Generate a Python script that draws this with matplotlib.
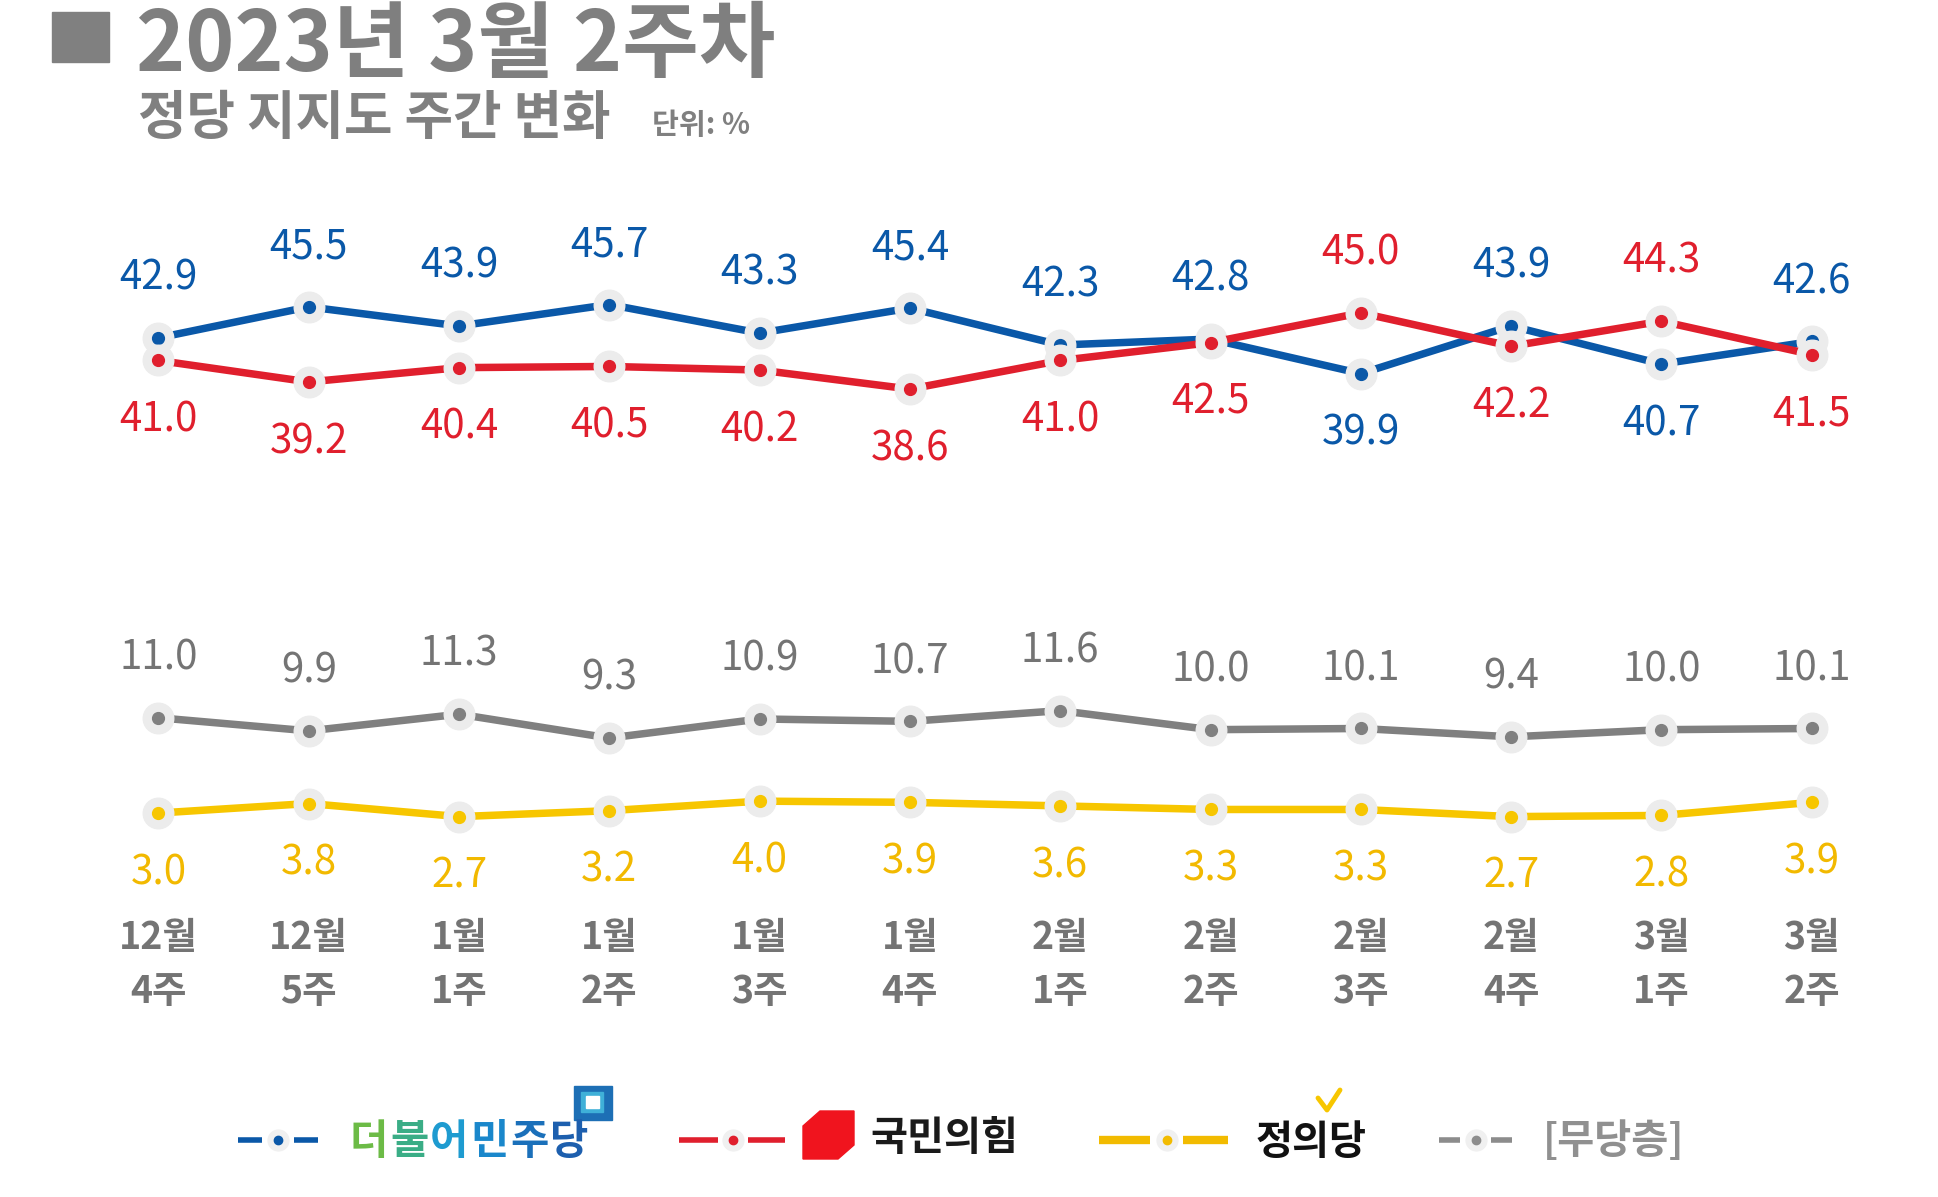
import numpy as np
import matplotlib
matplotlib.use("Agg")
import matplotlib.pyplot as plt
from matplotlib.patches import Polygon, Rectangle
import matplotlib.transforms as mtransforms

plt.rcParams['font.family'] = ['Noto Sans CJK KR', 'DejaVu Sans']

# === DATOS ===
months = ["12월", "12월", "1월", "1월", "1월", "1월", "2월", "2월", "2월", "2월", "3월", "3월"]
weeks = ["4주", "5주", "1주", "2주", "3주", "4주", "1주", "2주", "3주", "4주", "1주", "2주"]
minjoo = [42.9, 45.5, 43.9, 45.7, 43.3, 45.4, 42.3, 42.8, 39.9, 43.9, 40.7, 42.6]
ppp = [41.0, 39.2, 40.4, 40.5, 40.2, 38.6, 41.0, 42.5, 45.0, 42.2, 44.3, 41.5]
independent = [11.0, 9.9, 11.3, 9.3, 10.9, 10.7, 11.6, 10.0, 10.1, 9.4, 10.0, 10.1]
justice = [3.0, 3.8, 2.7, 3.2, 4.0, 3.9, 3.6, 3.3, 3.3, 2.7, 2.8, 3.9]

# === COLORES ===
BLUE = "#0a58a8"
RED = "#e01f2d"
GRAY = "#808080"
YELLOW = "#f7c600"
HALO = "#ececec"
TXT_GRAY = "#747474"

W, H = 1938, 1197
fig = plt.figure(figsize=(W / 100, H / 100), dpi=100)

# eje principal (sin marco), escala lineal unica
ax = fig.add_axes([0, 0, 1, 1])
ax.set_xlim(-1.054, 11.84)
ax.set_ylim(-29.24, 71.27)
ax.axis("off")

x = np.arange(len(months))


def serie(vals, color, lw=5.4, z=2):
    ax.plot(x, vals, color=color, lw=lw, solid_joinstyle="round", zorder=z)
    ax.plot(x, vals, "o", ms=22, color=HALO, zorder=z + 0.1)
    ax.plot(x, vals, "o", ms=8.5, color=color, zorder=z + 0.2)


def etiquetas(vals, color, arriba):
    for i, (v, up) in enumerate(zip(vals, arriba)):
        ax.annotate(f"{v:.1f}", (i, v), xytext=(0, 43 if up else -43),
                    textcoords="offset points", ha="center", va="center",
                    fontsize=29, color=color, zorder=10)


serie(independent, GRAY, z=2)
serie(justice, YELLOW, z=2)
serie(minjoo, BLUE, z=3)
serie(ppp, RED, z=4)

blue_up = [a >= b for a, b in zip(minjoo, ppp)]
etiquetas(minjoo, BLUE, blue_up)
etiquetas(ppp, RED, [not u for u in blue_up])
etiquetas(independent, TXT_GRAY, [True] * len(independent))
etiquetas(justice, "#f2b900", [False] * len(justice))

# etiquetas del eje x (dos lineas)
trans = mtransforms.blended_transform_factory(ax.transData, fig.transFigure)
for i, (m, w) in enumerate(zip(months, weeks)):
    ax.text(i, 1 - 938 / H, m, transform=trans, ha="center", va="center",
            fontsize=27, color=TXT_GRAY, fontweight="bold")
    ax.text(i, 1 - 992 / H, w, transform=trans, ha="center", va="center",
            fontsize=27, color=TXT_GRAY, fontweight="bold")

# === TITULO Y LEYENDA (coordenadas en pixeles) ===
lax = fig.add_axes([0, 0, 1, 1])
lax.set_xlim(0, W)
lax.set_ylim(H, 0)
lax.axis("off")
lax.patch.set_alpha(0)

lax.add_patch(Rectangle((52, 12), 57, 50, color=GRAY))
lax.text(136, 71, "2023년 3월 2주차", fontsize=60, fontweight="bold",
         color="#7f7f7f", va="baseline", ha="left")
lax.text(138, 134, "정당 지지도 주간 변화", fontsize=38, fontweight="bold",
         color="#808080", va="baseline", ha="left")
lax.text(652, 134, "단위: %", fontsize=21, fontweight="bold",
         color="#808080", va="baseline", ha="left")


def muestra(x0, x1, xd, x2, x3, color, lw=4):
    y = 1140
    lax.plot([x0, x1], [y, y], color=color, lw=lw, solid_capstyle="butt")
    lax.plot([x2, x3], [y, y], color=color, lw=lw, solid_capstyle="butt")
    lax.plot([xd], [y], "o", ms=15, color="#f0f0f0")
    lax.plot([xd], [y], "o", ms=6, color=color)


muestra(238, 262, 278, 294, 318, BLUE)
dp_colors = ["#6cbb46", "#3aad86", "#1e9bd0", "#1a87cb", "#1b70ba", "#1d5fae"]
for k, (ch, c) in enumerate(zip("더불어민주당", dp_colors)):
    lax.text(350 + k * 40, 1142, ch, fontsize=30, fontweight="bold", color=c,
             ha="left", va="center")
lax.add_patch(Rectangle((574, 1086), 38, 34, color="#1d6fb5"))
lax.add_patch(Rectangle((581, 1092), 22, 20, color="#3fb0d8"))
lax.add_patch(Rectangle((586, 1096), 13, 12, color="white"))

muestra(679, 718, 733, 748, 785, RED)
lax.add_patch(Polygon([(820, 1111), (854, 1111), (854, 1145), (838, 1159),
                       (803, 1159), (803, 1126)], closed=True, color="#f0141e"))
lax.text(870, 1138, "국민의힘", fontsize=29, fontweight="bold", color="#1a1a1a",
         ha="left", va="center")

muestra(1099, 1150, 1167, 1183, 1228, "#f2bb00", lw=6)
lax.text(1256, 1142, "정의당", fontsize=29, fontweight="bold", color="#111111",
         ha="left", va="center")
lax.plot([1318, 1327, 1340], [1098, 1110, 1090], color="#f7c600", lw=3.5,
         solid_capstyle="round")

muestra(1439, 1460, 1476, 1491, 1512, "#8c8c8c")
lax.text(1543, 1142, "[무당층]", fontsize=29, fontweight="bold", color="#909090",
         ha="left", va="center")

fig.savefig("out.png", dpi=100, facecolor="white")
